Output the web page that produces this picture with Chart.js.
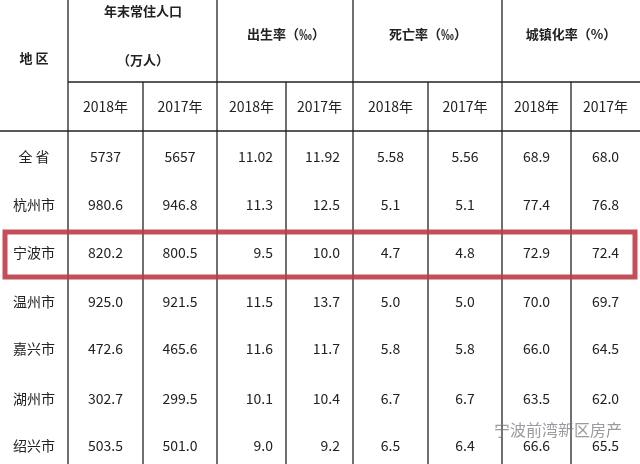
<!DOCTYPE html>
<html><head><meta charset="utf-8">
<script src="https://cdn.jsdelivr.net/npm/chart.js@4.4.0/dist/chart.umd.min.js"></script>
<style>html,body{margin:0;padding:0;background:#fff}#w{width:640px;height:464px}</style>
</head><body><div id="w"><canvas id="c"></canvas></div>
<script>
const regions=["全 省","杭州市","宁波市","温州市","嘉兴市","湖州市","绍兴市"];
const pop2018=["5737","980.6","820.2","925.0","472.6","302.7","503.5"];
const pop2017=["5657","946.8","800.5","921.5","465.6","299.5","501.0"];
const birth2018=["11.02","11.3","9.5","11.5","11.6","10.1","9.0"];
const birth2017=["11.92","12.5","10.0","13.7","11.7","10.4","9.2"];
const death2018=["5.58","5.1","4.7","5.0","5.8","6.7","6.5"];
const death2017=["5.56","5.1","4.8","5.0","5.8","6.7","6.4"];
const urban2018=["68.9","77.4","72.9","70.0","66.0","63.5","66.6"];
const urban2017=["68.0","76.8","72.4","69.7","64.5","62.0","65.5"];
const groups=["年末常住人口","出生率（‰）","死亡率（‰）","城镇化率（%）"];
const years=["2018年","2017年"];
const colEdges=[0,68,143,217,286,353,428,502,571,640];
const rowCenters=[157,205,253,302,349,399,446];
const cols=[pop2018,pop2017,birth2018,birth2017,death2018,death2017,urban2018,urban2017];
const F='"Noto Sans CJK SC","Noto Sans",sans-serif';
const tablePlugin={id:'tbl',afterDraw(ch){
 const x=ch.scales.x,y=ch.scales.y,c=ch.ctx;
 const X=v=>x.getPixelForValue(v),Y=v=>y.getPixelForValue(v);
 c.save();
 c.strokeStyle='#222';c.lineWidth=1.3;
 colEdges.slice(1,-1).forEach((e,i)=>{c.beginPath();
  const top=(i%2===0)?0:Y(82); c.moveTo(X(e),top);c.lineTo(X(e),Y(464));c.stroke();});
 c.beginPath();c.moveTo(X(68),Y(82));c.lineTo(X(640),Y(82));c.stroke();
 c.beginPath();c.moveTo(X(0),Y(131));c.lineTo(X(640),Y(131));c.stroke();
 c.fillStyle='#222';c.textBaseline='middle';c.textAlign='center';
 c.font='bold 13px '+F;
 c.fillText('地 区',X(34),Y(58));
 c.fillText('年末常住人口',X(143),Y(11));
 c.fillText('（万人）',X(143),Y(60));
 c.fillText(groups[1],X(286),Y(34));
 c.fillText(groups[2],X(428),Y(34));
 c.fillText(groups[3],X(571),Y(34));
 c.font='14px '+F;
 for(let k=0;k<8;k++){const cx=(colEdges[k+1]+colEdges[k+2])/2;c.fillText(years[k%2],X(cx),Y(107));}
 regions.forEach((r,i)=>{c.textAlign='center';c.font='14px '+F;
  c.fillText(r,X(34),Y(rowCenters[i]));});
 c.font='14px '+F;
 cols.forEach((col,k)=>{const l=colEdges[k+1],rr=colEdges[k+2];
  col.forEach((v,i)=>{
   if(k===2||k===3){c.textAlign='right';c.fillText(v,X(rr-13),Y(rowCenters[i]));}
   else{c.textAlign='center';c.fillText(v,X((l+rr)/2),Y(rowCenters[i]));}
  });});
 c.strokeStyle='rgba(190,60,70,0.9)';c.lineWidth=5;
 c.strokeRect(X(5),Y(232),X(635)-X(5),Y(277)-Y(232));
 c.fillStyle='rgba(120,120,130,0.75)';c.textAlign='left';c.font='16px '+F;
 c.fillText('宁波前湾新区房产',X(494),Y(430));
 c.restore();}};
new Chart(document.getElementById('c'),{type:'scatter',
 data:{datasets:[{data:[],pointRadius:0}]},
 options:{responsive:true,maintainAspectRatio:false,animation:false,
  layout:{padding:0},plugins:{legend:{display:false},tooltip:{enabled:false}},
  scales:{x:{type:'linear',min:0,max:640,display:false},y:{type:'linear',min:0,max:464,reverse:true,display:false}}},
 plugins:[tablePlugin]});
</script></body></html>
